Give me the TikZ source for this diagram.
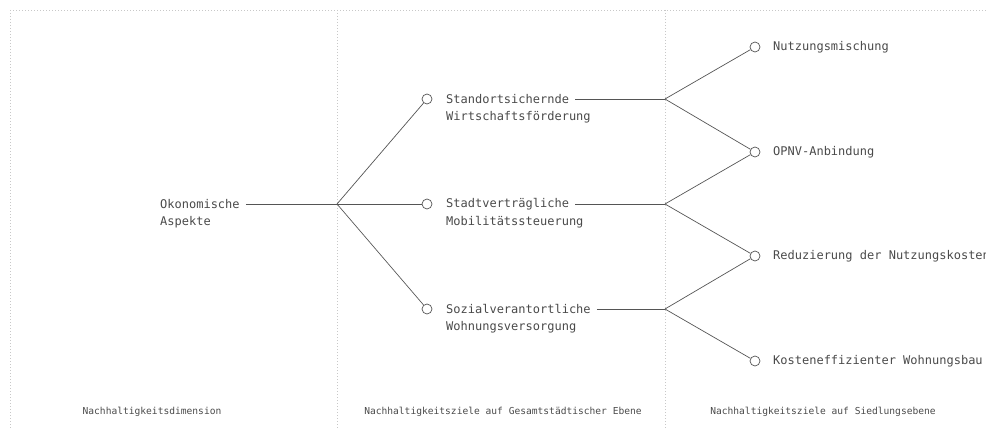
\documentclass[tikz,border=0pt]{standalone}
\usepackage{fontspec}
\newfontfamily\cadfont{DejaVu Sans Mono}
\definecolor{ink}{HTML}{4A4A4A}
\definecolor{wire}{HTML}{555555}
\definecolor{gridline}{HTML}{C8C8C8}
\begin{document}
\begin{tikzpicture}[x=1pt,y=-1pt,
  every node/.style={text=ink},
  txt/.style={font=\cadfont\fontsize{12}{18}\selectfont, anchor=west, inner xsep=0pt, inner ysep=1pt},
  caption/.style={font=\cadfont\fontsize{9.6}{12}\selectfont},
  dot/.style={circle, draw=wire, fill=white, minimum size=10pt, inner sep=0pt, line width=0.7pt},
  link/.style={draw=wire, line width=0.7pt},
  frame/.style={draw=gridline, line width=0.8pt, dash pattern=on 1pt off 2pt}]

\useasboundingbox (0,0) rectangle (986,428);

% column frame
\draw[frame] (10,10) -- (986,10);
\draw[frame] (10,10) -- (10,428);
\draw[frame] (337,10) -- (337,428);
\draw[frame] (665,10) -- (665,428);

% junctions
\coordinate (j0) at (337,204);
\coordinate (j1) at (665,99);
\coordinate (j2) at (665,204);
\coordinate (j3) at (665,309);

% dimension
\node[txt] (oek) at (160,204) {Okonomische};
\node[txt] (oekb) at (160,222) {Aspekte};

% city-wide goals
\node[dot] (c1) at (427,99) {};
\node[dot] (c2) at (427,204) {};
\node[dot] (c3) at (427,309) {};
\node[txt] (g1) at (446,99) {Standortsichernde};
\node[txt] (g1b) at (446,117) {Wirtschaftsförderung};
\node[txt] (g2) at (446,204) {Stadtverträgliche};
\node[txt] (g2b) at (446,222) {Mobilitätssteuerung};
\node[txt] (g3) at (446,309) {Sozialverantortliche};
\node[txt] (g3b) at (446,327) {Wohnungsversorgung};

% settlement goals
\node[dot] (s1) at (755,47) {};
\node[dot] (s2) at (755,152) {};
\node[dot] (s3) at (755,256) {};
\node[dot] (s4) at (755,361) {};
\node[txt] (t1) at (773,47) {Nutzungsmischung};
\node[txt] (t2) at (773,152) {OPNV-Anbindung};
\node[txt] (t3) at (773,256) {Reduzierung der Nutzungskosten};
\node[txt] (t4) at (773,361) {Kosteneffizienter Wohnungsbau};

% connectors
\draw[link] ([xshift=6pt]oek.east) -- (j0);
\draw[link] (j0) -- (c1);
\draw[link] (j0) -- (c2);
\draw[link] (j0) -- (c3);
\draw[link] ([xshift=6pt]g1.east) -- (j1);
\draw[link] ([xshift=6pt]g2.east) -- (j2);
\draw[link] ([xshift=6pt]g3.east) -- (j3);
\draw[link] (j1) -- (s1);
\draw[link] (j1) -- (s2);
\draw[link] (j2) -- (s2);
\draw[link] (j2) -- (s3);
\draw[link] (j3) -- (s3);
\draw[link] (j3) -- (s4);

% column captions
\node[caption] (h1) at (152,412) {Nachhaltigkeitsdimension};
\node[caption] (h2) at (503,412) {Nachhaltigkeitsziele auf Gesamtstädtischer Ebene};
\node[caption] (h3) at (823,412) {Nachhaltigkeitsziele auf Siedlungsebene};
\end{tikzpicture}
\end{document}
